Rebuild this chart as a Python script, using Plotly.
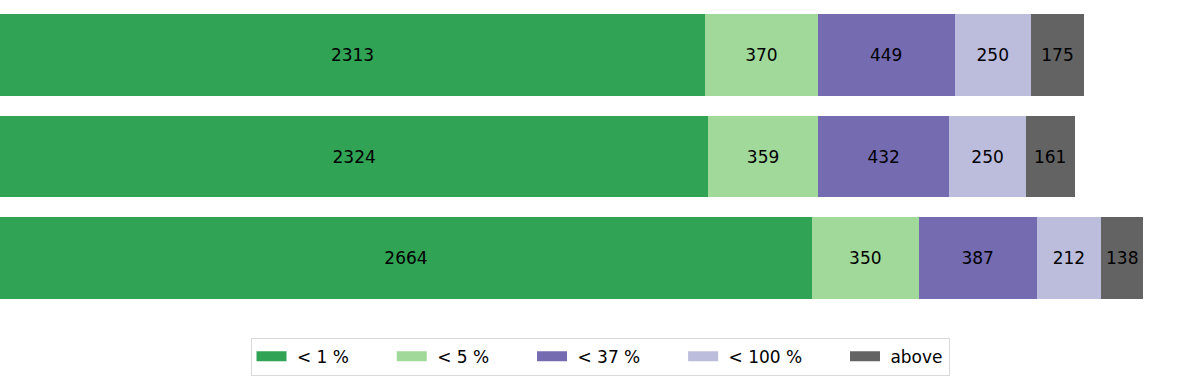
import plotly.graph_objects as go

rows = ["row 1", "row 2", "row 3"]
series_names = ["< 1 %", "< 5 %", "< 37 %", "< 100 %", "above"]
lt1 = [2313, 2324, 2664]
lt5 = [370, 359, 350]
lt37 = [449, 432, 387]
lt100 = [250, 250, 212]
above = [175, 161, 138]
colors = ["#31a354", "#a1d99b", "#756bb1", "#bcbddc", "#636363"]

series_values = [lt1, lt5, lt37, lt100, above]

NB = "\u00a0"

fig = go.Figure()
n = len(series_names)
for i, (name, vals, col) in enumerate(zip(series_names, series_values, colors)):
    fig.add_trace(go.Bar(
        y=rows, x=vals, orientation="h", name=name,
        marker=dict(color=col, line=dict(width=0)),
        width=0.8,
        text=[str(v) for v in vals],
        textposition="inside", insidetextanchor="middle",
        textangle=0, constraintext="none",
        textfont=dict(family="DejaVu Sans", size=17, color="black"),
        showlegend=False,
    ))
    label = NB + name + (NB * 7 if i < n - 1 else "")
    fig.add_trace(go.Scatter(
        x=[None], y=[None], mode="lines", name=label,
        line=dict(color=col, width=12),
        showlegend=True,
    ))

fig.update_layout(
    barmode="stack",
    width=1200, height=376,
    margin=dict(l=0, r=0, t=0, b=0),
    plot_bgcolor="white", paper_bgcolor="white",
    xaxis=dict(range=[0, 3937], visible=False, showgrid=False),
    yaxis=dict(type="category", categoryorder="array", categoryarray=rows,
               range=[2.6108, -0.5419], visible=False, domain=[0.1489, 1]),
    legend=dict(orientation="h", x=0.5, xanchor="center", y=0.102,
                yanchor="top", bordercolor="#d9d9d9", borderwidth=1,
                traceorder="normal",
                font=dict(family="DejaVu Sans", size=17, color="black"),
                itemwidth=30, tracegroupgap=0),
    font=dict(family="DejaVu Sans"),
)

fig.write_html("out.html")
